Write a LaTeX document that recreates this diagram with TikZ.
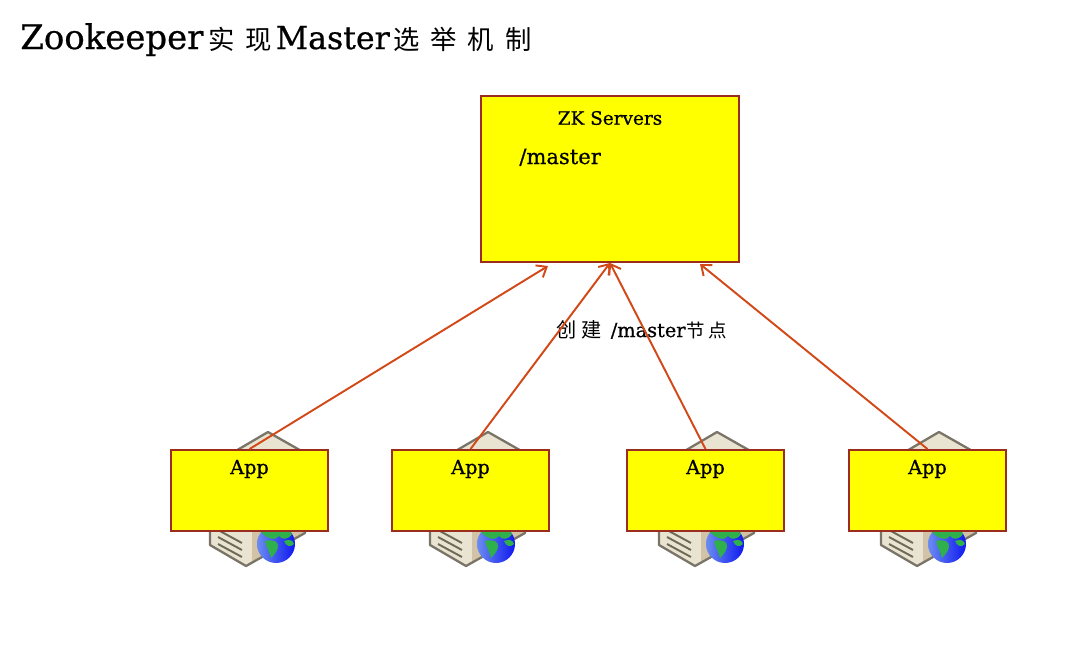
\documentclass[tikz,border=0pt]{standalone}
\usepackage{fontspec}
\setmainfont{DejaVu Serif}[FakeBold=0.7]
\newfontfamily\cjk{Noto Sans CJK SC}
\usetikzlibrary{arrows.meta}
\definecolor{boxfill}{HTML}{FFFF00}
\definecolor{boxline}{HTML}{9B2D1F}
\definecolor{arrowline}{HTML}{D34817}
\definecolor{caseline}{HTML}{7A7468}
\definecolor{casefront}{HTML}{E9E3D2}
\definecolor{caseside}{HTML}{D2C3A6}
\definecolor{casestripe}{HTML}{6E6A58}
\definecolor{globeblue}{HTML}{0F18F0}
\definecolor{globelight}{HTML}{6C8CF0}
\definecolor{globegreen}{HTML}{2FB04A}
\newcommand{\hz}[1]{{\cjk #1}}
\tikzset{
    zkbox/.style={draw=boxline,fill=boxfill,line width=1.1pt,minimum width=5.16cm,minimum height=3.32cm,inner sep=0pt},
    appbox/.style={draw=boxline,fill=boxfill,line width=1.1pt,minimum width=3.14cm,minimum height=1.62cm,inner sep=0pt},
    label/.style={inner sep=0pt,anchor=base west},
    call/.style={draw=arrowline,line width=1.1pt,-{Straight Barb[length=5pt,width=8pt]}},
    server/.pic={
        % Caisse du serveur
        \fill[casefront] (-66,-78) -- (-8,-112) -- (36,-87) -- (29,-11) -- (-30,22) -- (-66,1) -- cycle;
        \fill[caseside] (-24,19) -- (-24,-50) -- (36,-87) -- (29,-11) -- cycle;
        \draw[caseline,line width=1.3pt,line join=round] (-66,-78) -- (-8,-112) -- (36,-87) -- (29,-11) -- (-30,22) -- (-66,1) -- cycle;
        \foreach \r in {0,1,2} {
            \draw[casestripe,line width=1.1pt] (-58,{-14+7*\r}) -- (-34,{-1+7*\r});
        }
        % Globe
        \shade[left color=globelight,right color=globeblue] (0,0) circle (19);
        \fill[globegreen] (-15,-12) .. controls (-6,-20) and (8,-20) .. (16,-10) .. controls (12,-4) and (6,-4) .. (3,-8) .. controls (0,-3) and (-9,-5) .. (-15,-12) -- cycle;
        \fill[globegreen] (-11,-3) .. controls (-4,-5) and (3,-3) .. (2,3) .. controls (1,8) and (-3,12) .. (-5,14) .. controls (-6,8) and (-10,3) .. (-11,-3) -- cycle;
        \fill[globegreen] (8,-3) .. controls (13,-5) and (17,-4) .. (18,0) .. controls (14,4) and (10,2) .. (8,-3) -- cycle;
    }
}
\begin{document}
\begin{tikzpicture}[x=0.02cm,y=-0.02cm]
    \useasboundingbox (0,0) rectangle (1065,660);

    % Titre
    \node[label,font=\fontsize{19.3}{22}\selectfont] (title) at (20,49) {Zookeeper\hspace{3pt}\hz{\fontsize{15}{18}\selectfont 实\hspace{6.2pt}现}\hspace{2pt}{\fontsize{18}{22}\selectfont Master}\hspace{2pt}\hz{\fontsize{15}{18}\selectfont 选\hspace{6.2pt}举\hspace{6.2pt}机\hspace{6.2pt}制}};

    % Serveurs sous les boites
    \foreach \name/\x in {a/276,b/496,c/725,d/947} {
        \pic (server\name) at (\x,544) {server};
    }

    % Boites
    \node[zkbox] (zk) at (610,179) {};
    \node[appbox] (appa) at (249.5,490.5) {};
    \node[appbox] (appb) at (470.5,490.5) {};
    \node[appbox] (appc) at (705.5,490.5) {};
    \node[appbox] (appd) at (927.5,490.5) {};

    % Textes
    \node[font=\fontsize{10.5}{12}\selectfont,inner sep=0pt] (zktitle) at (610,118) {ZK Servers};
    \node[label,font=\fontsize{12}{14}\selectfont] (master) at (519,164) {/master};
    \foreach \name in {a,b,c,d} {
        \node[font=\fontsize{11}{13}\selectfont,inner sep=0pt,below=6pt] (text\name) at (app\name.north) {App};
    }
    \node[label,font=\fontsize{11}{14}\selectfont] (create) at (556,337) {\hz{\fontsize{11.5}{14}\selectfont 创\hspace{3pt}建}\hspace{5pt}/master\hspace{0.5pt}\hz{\fontsize{10.5}{14}\selectfont 节\hspace{2pt}点}};

    % Fleches
    \coordinate (zkleft) at (548,266);
    \coordinate (zkright) at (700,264);
    \draw[call] (appa.north) -- (zkleft);
    \draw[call] (appb.north) -- (zk.south);
    \draw[call] (appc.north) -- (zk.south);
    \draw[call] (appd.north) -- (zkright);
\end{tikzpicture}
\end{document}
